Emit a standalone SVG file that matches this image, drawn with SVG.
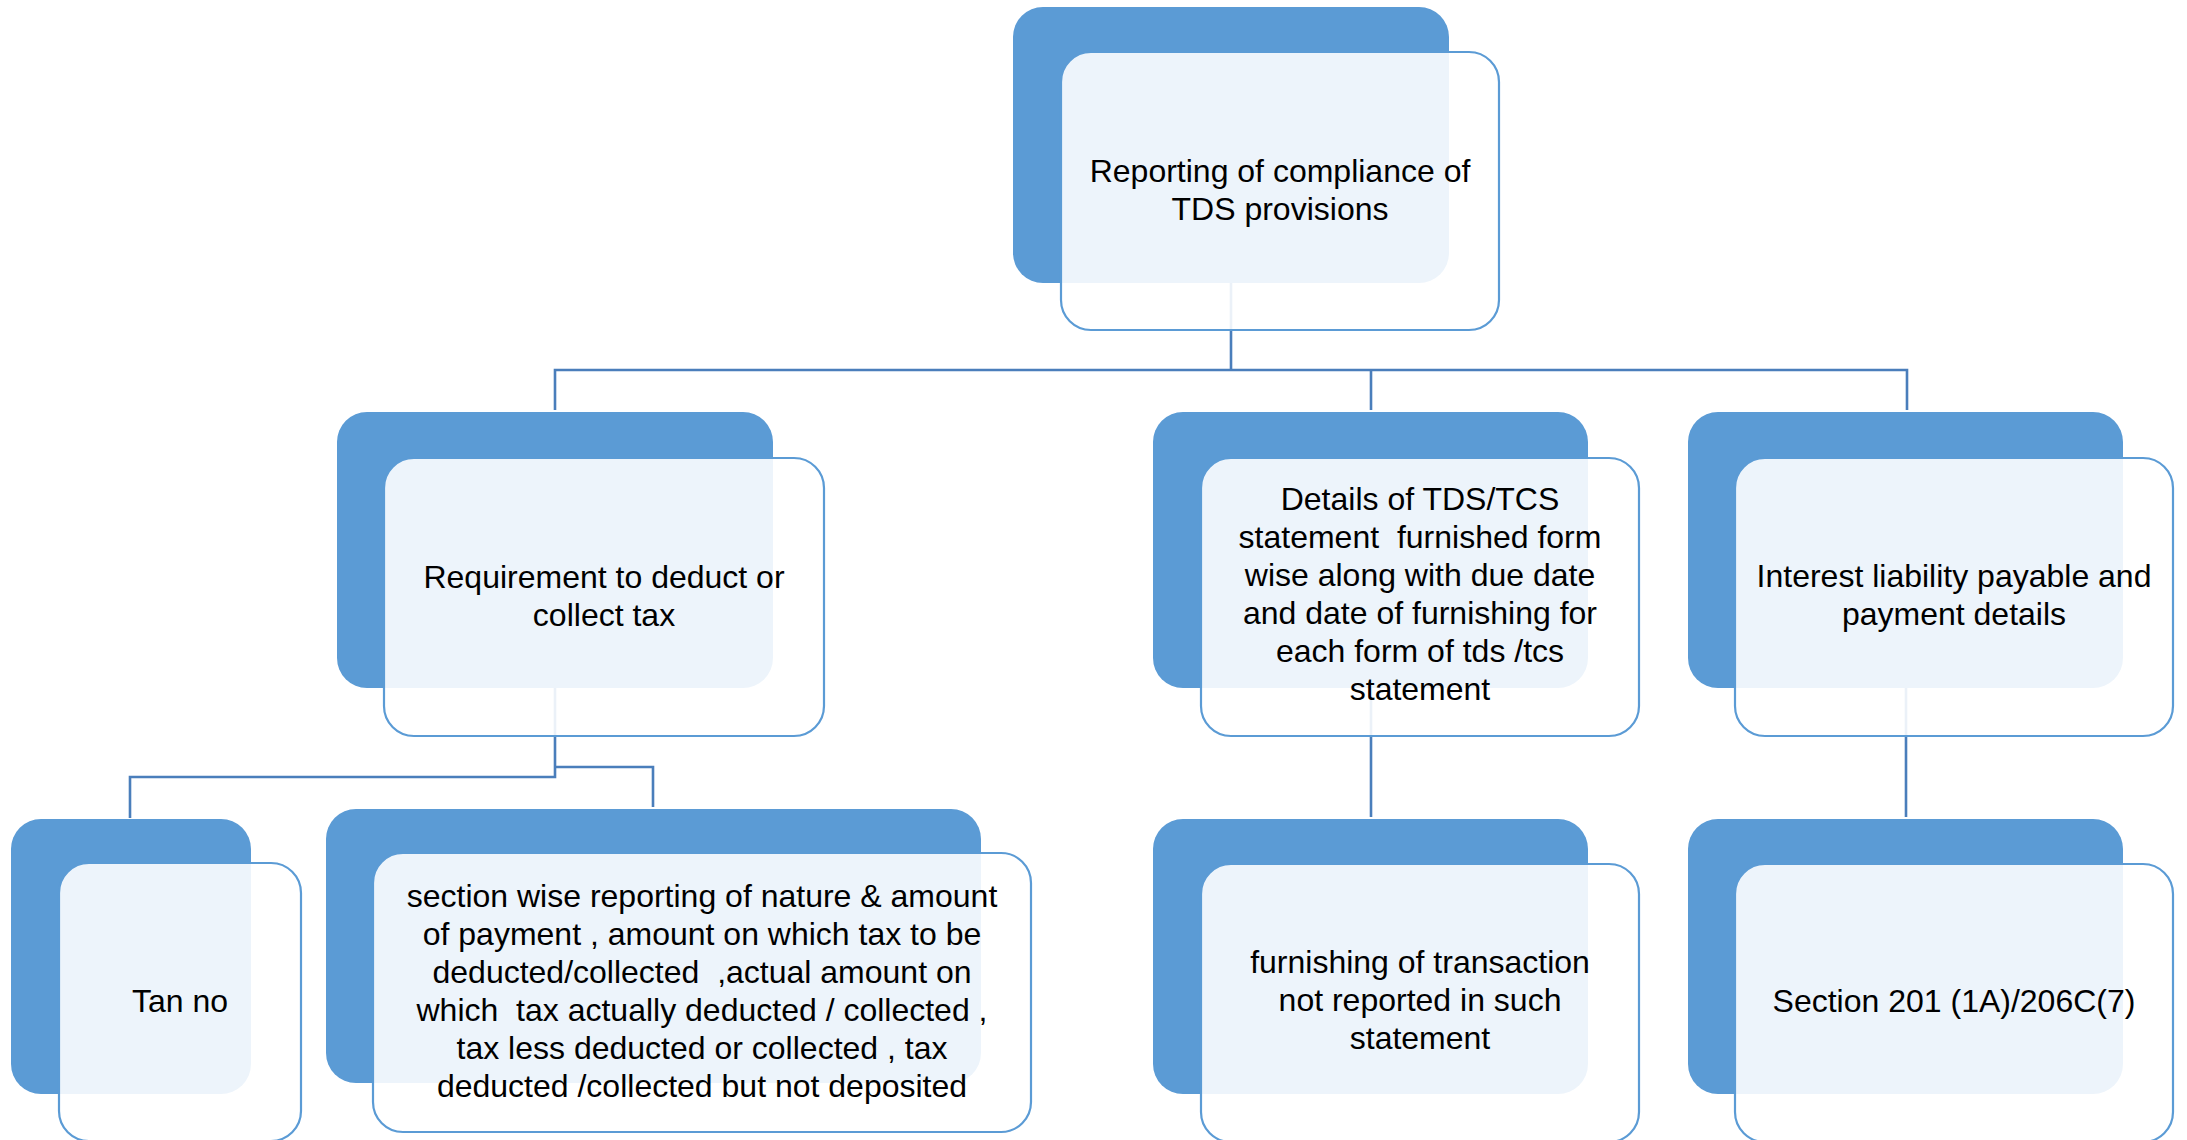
<svg xmlns="http://www.w3.org/2000/svg" width="2187" height="1140" viewBox="0 0 2187 1140">
<style>
.back{fill:#5B9BD5;}
.front{fill:#FFFFFF;fill-opacity:0.89;stroke:#5B9BD5;stroke-width:2.2;}
.conn{fill:none;stroke:#4A7EBB;stroke-width:2.6;}
text{font-family:"Liberation Sans",Arial,sans-serif;font-size:32px;fill:#000;text-anchor:middle;white-space:pre;}
</style>
<rect width="2187" height="1140" fill="#FFFFFF"/>
<g id="connectors">
<path class="conn" d="M1231 283 V370"/>
<path class="conn" d="M555 410 V370 H1907 V410"/>
<path class="conn" d="M1371 370 V410"/>
<path class="conn" d="M555 688 V777 H130 V818"/>
<path class="conn" d="M555 767 H653 V807"/>
<path class="conn" d="M1371 688 V817"/>
<path class="conn" d="M1906 688 V817"/>
</g>
<g id="node-root">
<rect class="back" x="1013" y="7" width="436" height="276" rx="30"/>
<rect class="front" x="1061" y="52" width="438" height="278" rx="30"/>
<text x="1280" y="182">Reporting of compliance of</text>
<text x="1280" y="220">TDS provisions</text>
</g>
<g id="node-requirement">
<rect class="back" x="337" y="412" width="436" height="276" rx="30"/>
<rect class="front" x="384" y="458" width="440" height="278" rx="30"/>
<text x="604" y="588">Requirement to deduct or</text>
<text x="604" y="626">collect tax</text>
</g>
<g id="node-details">
<rect class="back" x="1153" y="412" width="435" height="276" rx="30"/>
<rect class="front" x="1201" y="458" width="438" height="278" rx="30"/>
<text x="1420" y="510">Details of TDS/TCS</text>
<text x="1420" y="548">statement  furnished form</text>
<text x="1420" y="586">wise along with due date</text>
<text x="1420" y="624">and date of furnishing for</text>
<text x="1420" y="662">each form of tds /tcs</text>
<text x="1420" y="700">statement</text>
</g>
<g id="node-interest">
<rect class="back" x="1688" y="412" width="435" height="276" rx="30"/>
<rect class="front" x="1735" y="458" width="438" height="278" rx="30"/>
<text x="1954" y="587">Interest liability payable and</text>
<text x="1954" y="625">payment details</text>
</g>
<g id="node-tan">
<rect class="back" x="11" y="819" width="240" height="275" rx="30"/>
<rect class="front" x="59" y="863" width="242" height="278" rx="30"/>
<text x="180" y="1012">Tan no</text>
</g>
<g id="node-section-wise">
<rect class="back" x="326" y="809" width="655" height="274" rx="30"/>
<rect class="front" x="373" y="853" width="658" height="279" rx="30"/>
<text x="702" y="907">section wise reporting of nature &amp; amount</text>
<text x="702" y="945">of payment , amount on which tax to be</text>
<text x="702" y="983">deducted/collected  ,actual amount on</text>
<text x="702" y="1021">which  tax actually deducted / collected ,</text>
<text x="702" y="1059">tax less deducted or collected , tax</text>
<text x="702" y="1097">deducted /collected but not deposited</text>
</g>
<g id="node-furnishing">
<rect class="back" x="1153" y="819" width="435" height="275" rx="30"/>
<rect class="front" x="1201" y="864" width="438" height="278" rx="30"/>
<text x="1420" y="973">furnishing of transaction</text>
<text x="1420" y="1011">not reported in such</text>
<text x="1420" y="1049">statement</text>
</g>
<g id="node-section201">
<rect class="back" x="1688" y="819" width="435" height="275" rx="30"/>
<rect class="front" x="1735" y="864" width="438" height="278" rx="30"/>
<text x="1954" y="1012">Section 201 (1A)/206C(7)</text>
</g>
</svg>
